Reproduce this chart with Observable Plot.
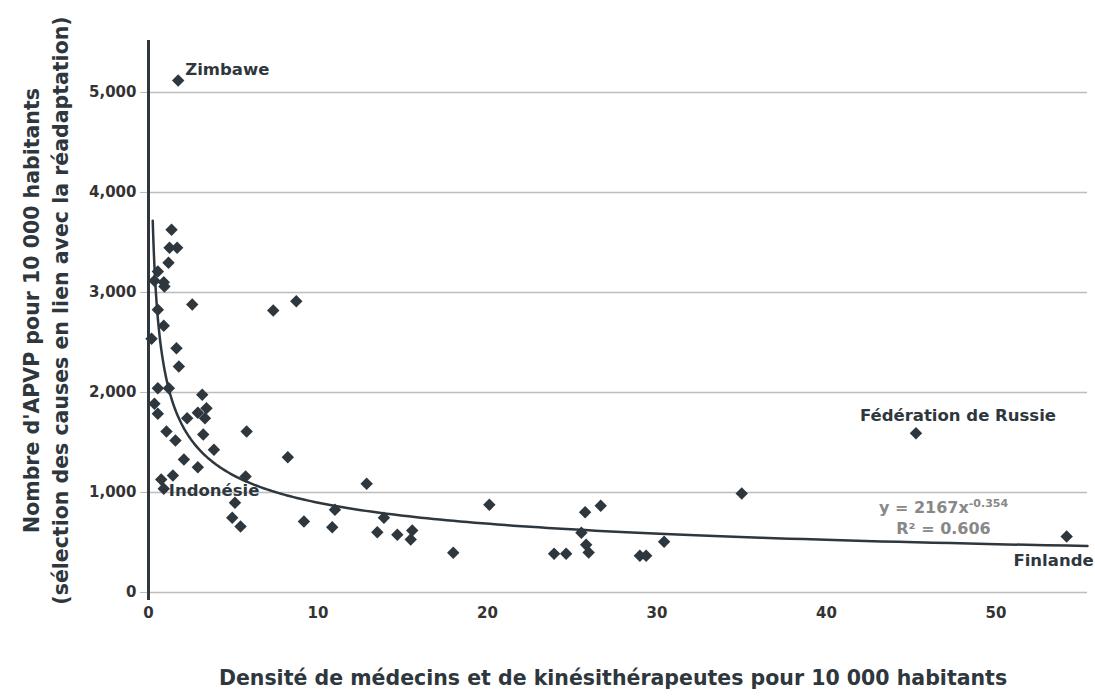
<!DOCTYPE html>
<html>
<head>
<meta charset="utf-8">
<script src="https://cdn.jsdelivr.net/npm/d3@7"></script>
<script src="https://cdn.jsdelivr.net/npm/@observablehq/plot@0.6"></script>
<style>
  html, body { margin: 0; padding: 0; background: #fff; }
  #chart svg { display: block; }
</style>
</head>
<body>
<div id="chart"></div>
<script>
// Density of physicians and physiotherapists per 10 000 inhabitants
const density = [1.75, 1.36, 1.24, 1.69, 1.18, 0.55, 0.35, 0.90, 0.94, 2.58,
  0.55, 0.90, 0.18, 1.65, 1.79, 0.55, 1.20, 3.17, 0.35, 3.42,
  0.55, 2.91, 3.33, 2.28, 1.06, 3.23, 5.79, 1.59, 3.86, 2.09,
  2.91, 5.73, 0.75, 1.44, 0.90, 5.10, 4.94, 5.43, 7.36, 8.72,
  8.22, 12.87, 11.0, 9.17, 10.84, 13.89, 13.5, 14.68, 15.56, 15.47,
  17.98, 20.11, 23.93, 24.64, 25.76, 26.68, 25.54, 25.82, 25.97, 28.99,
  29.36, 30.42, 35.0, 45.28, 54.17];
// YLL (APVP) per 10 000 inhabitants
const apvp = [5120, 3627, 3447, 3447, 3297, 3210, 3117, 3103, 3060, 2880,
  2827, 2667, 2537, 2443, 2260, 2043, 2043, 1977, 1887, 1843,
  1787, 1797, 1743, 1743, 1610, 1580, 1610, 1520, 1427, 1330,
  1253, 1160, 1130, 1170, 1037, 897, 747, 660, 2820, 2913,
  1353, 1087, 827, 710, 653, 747, 603, 577, 620, 530,
  397, 877, 387, 387, 803, 867, 597, 477, 400, 367,
  367, 507, 990, 1593, 560];
// Labelled countries (index into the arrays above)
const labelNames = ["Zimbawe", "Indonésie", "Fédération de Russie", "Finlande"];
const labelIndex = [0, 34, 63, 64];
// Printed trend equation
const eqA = 2167;
const eqB = -0.354;
const eqR2 = 0.606;
// Trend curve as drawn in the picture (power form)
const curveA = 2180;
const curveB = -0.385;
const curveX0 = 0.25;
const curveX1 = 55.4;
const xTicks = [0, 10, 20, 30, 40, 50];
const yTicks = [0, 1000, 2000, 3000, 4000, 5000];
const xTitle = "Densité de médecins et de kinésithérapeutes pour 10 000 habitants";
const yTitle = "Nombre d'APVP pour 10 000 habitants\n(sélection des causes en lien avec la réadaptation)";

const points = density.map((x, i) => ({x, y: apvp[i]}));
const labelled = labelNames.map((name, k) => ({name, ...points[labelIndex[k]]}));
const trendXs = d3.range(0, 241).map(i => curveX0 * Math.pow(curveX1 / curveX0, i / 240));
const trend = trendXs.map(x => ({x, y: curveA * Math.pow(x, curveB)}));

const dark = "#2e373d";
const font = "'DejaVu Sans', sans-serif";
const lab = name => labelled.filter(d => d.name === name);
const labStyle = {x: "x", y: "y", text: "name", fill: dark, fontWeight: 700, fontSize: 16.5};
const endPt = [{x: curveX1, y: 0}];

const plot = Plot.plot({
  width: 1095,
  height: 697,
  marginLeft: 148,
  marginRight: 8,
  marginTop: 40,
  marginBottom: 105,
  style: {fontFamily: font, background: "#fff", color: dark},
  x: {domain: [0, curveX1]},
  y: {domain: [0, 5520]},
  marks: [
    Plot.gridY(yTicks, {stroke: "#bdbdbd", strokeOpacity: 1, strokeWidth: 1.5}),
    Plot.axisY(yTicks, {tickFormat: d3.format(","), tickSize: 8, tickPadding: 4, stroke: "#bdbdbd",
      fontSize: 15, fontWeight: 700, fill: "#333", label: null}),
    Plot.axisX(xTicks, {tickSize: 0, tickPadding: 15, fontSize: 15, fontWeight: 700, fill: "#333", label: null}),
    Plot.ruleX([0], {stroke: dark, strokeWidth: 3, insetBottom: -8}),
    Plot.line(trend, {x: "x", y: "y", stroke: dark, strokeWidth: 2.5}),
    Plot.dot(points, {x: "x", y: "y", symbol: "diamond2", r: 5.6, fill: dark, stroke: "none"}),
    Plot.text(lab("Zimbawe"), {...labStyle, textAnchor: "start", dx: 7, dy: -11}),
    Plot.text(lab("Indonésie"), {...labStyle, textAnchor: "start", dx: 5, dy: 2}),
    Plot.text(lab("Fédération de Russie"), {...labStyle, textAnchor: "middle", dx: 42, dy: -17}),
    Plot.text(lab("Finlande"), {...labStyle, textAnchor: "end", dx: 27, dy: 24}),
    Plot.text(endPt, {x: "x", y: "y", text: () => `y = ${eqA}x`, className: "eq",
      textAnchor: "middle", dx: -144, dy: -85, fill: "#888", fontWeight: 700, fontSize: 16}),
    Plot.text(endPt, {x: "x", y: "y", text: () => `R² = ${eqR2}`,
      textAnchor: "middle", dx: -144, dy: -64, fill: "#888", fontWeight: 700, fontSize: 16}),
    Plot.text([xTitle], {frameAnchor: "bottom", dx: -5, dy: 92, text: d => d, fill: dark, fontWeight: 700, fontSize: 20.5}),
    Plot.text([yTitle], {frameAnchor: "left", textAnchor: "middle", dx: -104, dy: -6, rotate: -90,
      text: d => d, lineHeight: 1.4, fill: dark, fontWeight: 700, fontSize: 20.5})
  ]
});

// superscript exponent on the trend equation
d3.select(plot).select("g.eq text").append("tspan")
  .attr("dy", "-0.55em").attr("font-size", "11px").text(String(eqB));

document.getElementById("chart").appendChild(plot);
</script>
</body>
</html>
